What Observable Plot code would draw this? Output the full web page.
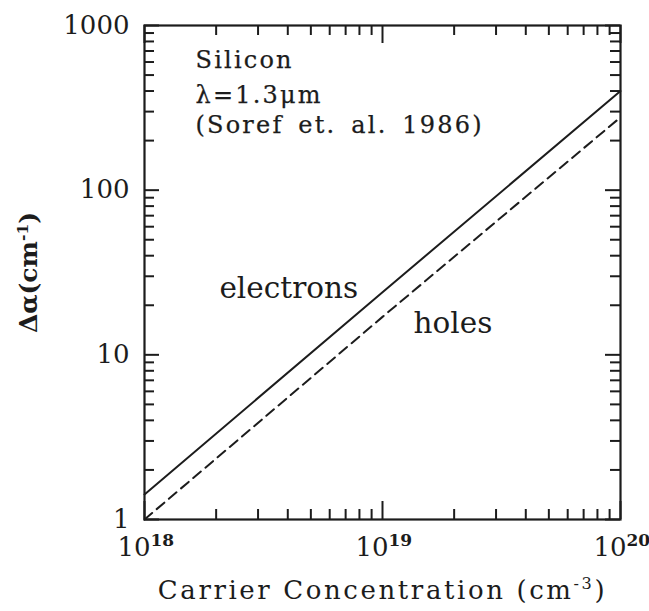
<!DOCTYPE html>
<html>
<head>
<meta charset="utf-8">
<script src="https://cdn.jsdelivr.net/npm/d3@7"></script>
<script src="https://cdn.jsdelivr.net/npm/@observablehq/plot@0.6"></script>
<style>
  body { margin: 0; background: #fff; }
</style>
</head>
<body>
<div id="chart"></div>
<script>
// Free-carrier absorption change in silicon at 1.3 µm
const concentration = [1e18, 1e19, 1e20];      // cm^-3
const electronAbsorption = [1.42, 24, 400];     // cm^-1
const holeAbsorption = [1.0, 17, 277];          // cm^-1

const xTicks = [1e18, 1e19, 1e20];
const xTickBase = ["10", "10", "10"];
const xTickExponents = ["18", "19", "20"];
const yTicks = [1, 10, 100, 1000];
const yTickLabels = ["1", "10", "100", "1000"];

const noteLines = ["Silicon", "λ=1.3μm", "(Soref et. al. 1986)"];
const seriesNames = ["electrons", "holes"];
const xTitle = ["Carrier Concentration (cm", "-3", ")"];
const yTitle = ["Δα(cm", "-1", ")"];

const electronRows = concentration.map((x, i) => ({x, y: electronAbsorption[i]}));
const holeRows = concentration.map((x, i) => ({x, y: holeAbsorption[i]}));

// minor ticks at 2..9 within each decade
const minorTicks = (decades) => decades.slice(0, -1).flatMap((d) => d3.range(2, 10).map((k) => k * d));
const xMinor = minorTicks(xTicks);
const yMinor = minorTicks(yTicks);

// layout
const W = 649, H = 611;
const margin = {top: 25, right: 29, bottom: 92, left: 144};
const innerW = W - margin.left - margin.right;
const innerH = H - margin.top - margin.bottom;
const majorLen = 18, majorLenY = 15, minorLen = 10;

const ink = "#1c1c1c";
const serif = "'DejaVu Serif', serif";
const tick = {stroke: ink, strokeWidth: 2};
const note = {frameAnchor: "top-left", dx: 51, text: (d) => d, textAnchor: "start", lineAnchor: "bottom",
              fontSize: 24, fontFamily: serif, fill: ink, stroke: ink, strokeWidth: 0.25};

const chart = Plot.plot({
  width: W,
  height: H,
  marginLeft: margin.left,
  marginRight: margin.right,
  marginTop: margin.top,
  marginBottom: margin.bottom,
  x: {type: "log", domain: [1e18, 1e20], axis: null},
  y: {type: "log", domain: [1, 1000], axis: null},
  style: {background: "#fff", color: ink},
  marks: [
    // inward ticks on all four sides
    Plot.tickX(xTicks, {x: (d) => d, insetTop: innerH - majorLen, ...tick}),
    Plot.tickX(xMinor, {x: (d) => d, insetTop: innerH - minorLen, ...tick}),
    Plot.tickX(xTicks, {x: (d) => d, insetBottom: innerH - majorLen, ...tick}),
    Plot.tickX(xMinor, {x: (d) => d, insetBottom: innerH - minorLen, ...tick}),
    Plot.tickY(yTicks, {y: (d) => d, insetRight: innerW - majorLenY, ...tick}),
    Plot.tickY(yMinor, {y: (d) => d, insetRight: innerW - minorLen, ...tick}),
    Plot.tickY(yTicks, {y: (d) => d, insetLeft: innerW - majorLenY, ...tick}),
    Plot.tickY(yMinor, {y: (d) => d, insetLeft: innerW - minorLen, ...tick}),

    // x tick labels: 10 with a raised exponent
    Plot.text(xTicks, {
      x: (d) => d, frameAnchor: "bottom", text: (d, i) => xTickBase[i],
      textAnchor: "end", lineAnchor: "bottom", dx: 6, dy: 36,
      fontSize: 26, fontFamily: serif, fill: ink
    }),
    Plot.text(xTicks, {
      x: (d) => d, frameAnchor: "bottom", text: (d, i) => xTickExponents[i],
      textAnchor: "start", lineAnchor: "bottom", dx: 6, dy: 26,
      fontSize: 17, fontFamily: serif, fontWeight: "bold", fill: ink
    }),
    // y tick labels
    Plot.text(yTicks, {
      y: (d) => d, frameAnchor: "left", text: (d, i) => yTickLabels[i],
      textAnchor: "end", lineAnchor: "middle", dx: -15,
      fontSize: 26, fontFamily: serif, fill: ink
    }),

    Plot.frame({stroke: ink, strokeWidth: 2.2}),

    // absorption curves
    Plot.line(electronRows, {x: "x", y: "y", stroke: ink, strokeWidth: 2}),
    Plot.line(holeRows, {x: "x", y: "y", stroke: ink, strokeWidth: 2, strokeDasharray: "10,6"}),

    // curve labels
    Plot.text([seriesNames[0]], {
      x: 7.9e18, y: 22, text: (d) => d, textAnchor: "end", lineAnchor: "bottom",
      fontSize: 29.5, fontFamily: serif, fill: ink
    }),
    Plot.text([seriesNames[1]], {
      x: 1.35e19, y: 13.6, text: (d) => d, textAnchor: "start", lineAnchor: "bottom",
      fontSize: 29.5, fontFamily: serif, fill: ink
    }),

    // inset note
    Plot.text([noteLines[0]], {...note, dy: 42}),
    Plot.text([noteLines[1]], {...note, dy: 77}),
    Plot.text([noteLines[2]], {...note, dy: 107}),

    // axis titles (superscripts set below)
    Plot.text([xTitle.join("")], {
      frameAnchor: "bottom", dy: 79, text: (d) => d, textAnchor: "middle", lineAnchor: "bottom",
      fontSize: 26, fontFamily: serif, fill: ink
    }),
    Plot.text([yTitle.join("")], {
      frameAnchor: "left", dx: -116, rotate: -90, text: (d) => d,
      textAnchor: "middle", lineAnchor: "middle",
      fontSize: 25, fontFamily: serif, fontWeight: "bold", fill: ink
    })
  ]
});

const texts = d3.select(chart).selectAll("text");

// typeset the unit exponents of the axis titles as superscripts
function superscript(parts, shift, scale) {
  texts.filter(function () { return this.textContent === parts.join(""); })
    .each(function () {
      const t = d3.select(this);
      t.text(null);
      t.append("tspan").text(parts[0]);
      t.append("tspan").attr("dy", -shift).attr("font-size", `${scale}em`).text(parts[1]);
      t.append("tspan").attr("dy", shift).text(parts[2]);
    });
}
superscript(xTitle, 10, 0.62);
superscript(yTitle, 9, 0.62);

// wide, typewriter-like spacing for the note and the x title
texts.filter(function () { return noteLines.includes(this.textContent); })
  .style("letter-spacing", "2.2px").style("word-spacing", "5px");
texts.filter(function () { return this.textContent === xTitle.join(""); })
  .style("letter-spacing", "2.6px");

document.getElementById("chart").append(chart);
</script>
</body>
</html>
